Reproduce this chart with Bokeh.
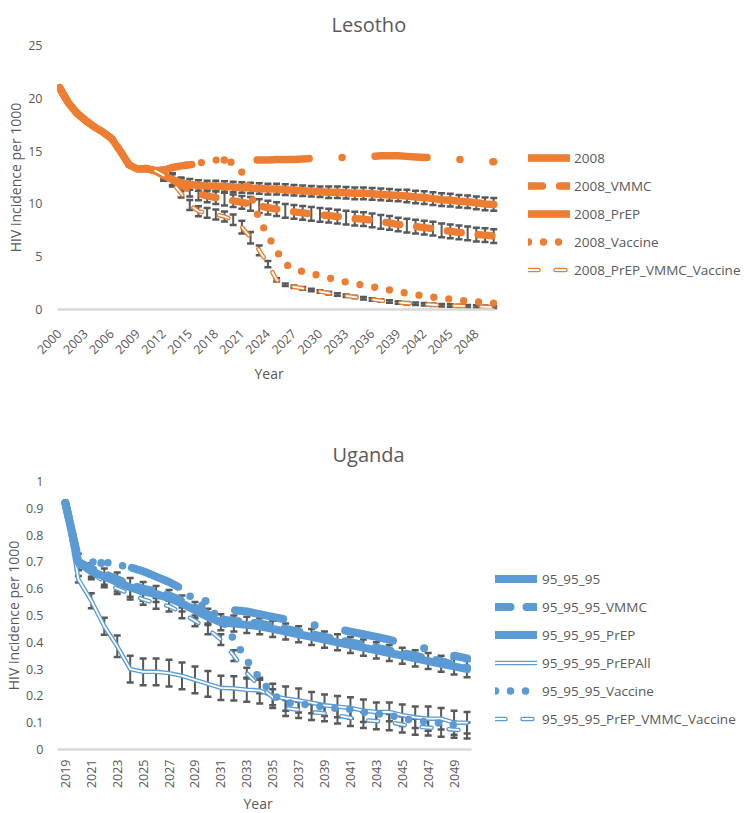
import numpy as np
from bokeh.plotting import figure
from bokeh.layouts import column
from bokeh.models import Range1d, FixedTicker, Legend, LegendItem, NumeralTickFormatter, Title
from bokeh.embed import file_html
from bokeh.resources import INLINE

ORANGE = "#ED7D31"
BLUE = "#5B9BD5"
TXT = "#595959"
ERR = "#595959"
AXIS = "#D9D9D9"
FONT = "Open Sans"

# ---------------- Lesotho data ----------------
les_years = list(range(2000, 2051))
les_proj_years = list(range(2011, 2051))
les_hist = [21.0, 19.6, 18.6, 17.9, 17.3, 16.8, 16.2, 15.0, 13.7, 13.3, 13.35, 13.15]  # 2000-2011
les_2008 = [13.2, 13.45, 13.6, 13.7, 13.8, 14.0, 14.1, 14.15, 14.2, 14.2, 14.2, 14.15, 14.15,
            14.2, 14.2, 14.2, 14.25, 14.3, 14.3, 14.35, 14.4, 14.4, 14.45, 14.5, 14.5, 14.55,
            14.55, 14.55, 14.5, 14.45, 14.4, 14.35, 14.3, 14.25, 14.2, 14.15, 14.1, 14.0, 14.0]
les_vmmc = [12.8, 12.3, 11.8, 11.3, 10.95, 10.75, 10.6, 10.45, 10.3, 10.15, 10.0, 9.8, 9.65,
            9.5, 9.35, 9.25, 9.15, 9.05, 8.95, 8.9, 8.8, 8.7, 8.6, 8.55, 8.45, 8.3, 8.2, 8.05,
            7.95, 7.85, 7.75, 7.65, 7.5, 7.4, 7.3, 7.2, 7.1, 7.05, 6.95]
les_prep = [12.7, 12.3, 12.0, 11.85, 11.75, 11.7, 11.7, 11.65, 11.6, 11.55, 11.5, 11.45, 11.4,
            11.4, 11.35, 11.3, 11.25, 11.2, 11.15, 11.1, 11.1, 11.05, 11.0, 11.0, 10.95, 10.9,
            10.85, 10.8, 10.75, 10.65, 10.6, 10.5, 10.4, 10.35, 10.25, 10.2, 10.1, 10.0, 9.95]
les_vacc = [13.2, 13.45, 13.6, 13.7, 13.85, 14.05, 14.15, 14.1, 13.9, 13.0, 11.0, 8.5, 7.0,
            5.55, 4.3, 3.85, 3.6, 3.4, 3.2, 3.0, 2.8, 2.6, 2.45, 2.3, 2.15, 2.0, 1.85, 1.7,
            1.55, 1.4, 1.3, 1.17, 1.07, 0.98, 0.88, 0.8, 0.73, 0.66, 0.6]
les_comb = [13.15, 12.7, 12.0, 11.0, 9.9, 9.3, 9.15, 9.0, 8.8, 8.5, 7.8, 6.8, 5.6, 4.3, 2.8,
            2.35, 2.15, 2.0, 1.85, 1.7, 1.55, 1.42, 1.3, 1.18, 1.06, 0.95, 0.85, 0.75, 0.66,
            0.6, 0.55, 0.5, 0.45, 0.4, 0.37, 0.34, 0.31, 0.28, 0.25, 0.22]  # 2011-2050
les_prep_err = [0.5, 0.5, 0.5, 0.5, 0.5, 0.5, 0.5, 0.5, 0.5, 0.5, 0.5, 0.5, 0.5, 0.5, 0.5,
                0.5, 0.5, 0.5, 0.5, 0.55, 0.55, 0.55, 0.55, 0.55, 0.55, 0.55, 0.55, 0.55, 0.6,
                0.6, 0.6, 0.6, 0.6, 0.6, 0.6, 0.6, 0.6, 0.6, 0.6]
les_vmmc_err = [0.6, 0.6, 0.6, 0.6, 0.6, 0.6, 0.6, 0.6, 0.6, 0.6, 0.65, 0.65, 0.65, 0.65, 0.65,
                0.65, 0.65, 0.65, 0.65, 0.65, 0.65, 0.65, 0.65, 0.65, 0.65, 0.65, 0.65, 0.65,
                0.65, 0.65, 0.65, 0.65, 0.65, 0.65, 0.65, 0.65, 0.65, 0.65, 0.65]
les_comb_err = [None, 0.3, 0.35, 0.4, 0.47, 0.47, 0.47, 0.47, 0.47, 0.5, 0.6, 0.55, 0.47, 0.3,
                0.15, 0.12, 0.12, 0.12, 0.12, 0.12, 0.12, 0.12, 0.12, 0.12, 0.12, 0.12, 0.12,
                0.12, 0.12, 0.12, 0.12, 0.12, 0.12, 0.12, 0.12, 0.12, 0.12, 0.12, 0.12, 0.12]
les_xticks = [2000, 2003, 2006, 2009, 2012, 2015, 2018, 2021, 2024, 2027, 2030, 2033, 2036,
              2039, 2042, 2045, 2048]
les_yticks = [0, 5, 10, 15, 20, 25]

# ---------------- Uganda data ----------------
uga_years = list(range(2019, 2051))
uga_base = [0.92, 0.71, 0.70, 0.695, 0.685, 0.68, 0.665, 0.645, 0.625, 0.60, 0.575, 0.55, 0.535,
            0.52, 0.515, 0.505, 0.495, 0.485, 0.475, 0.465, 0.46, 0.45, 0.44, 0.43, 0.42, 0.41,
            0.395, 0.385, 0.375, 0.36, 0.35, 0.34]
uga_vmmc = [0.92, 0.70, 0.675, 0.655, 0.635, 0.615, 0.60, 0.59, 0.575, 0.555, 0.53, 0.505, 0.485,
            0.48, 0.475, 0.47, 0.46, 0.45, 0.44, 0.43, 0.42, 0.41, 0.40, 0.39, 0.38, 0.37, 0.36,
            0.35, 0.34, 0.33, 0.315, 0.305]
uga_prep = [0.92, 0.70, 0.665, 0.645, 0.625, 0.605, 0.59, 0.58, 0.565, 0.545, 0.52, 0.495, 0.475,
            0.47, 0.465, 0.46, 0.45, 0.44, 0.43, 0.42, 0.41, 0.40, 0.39, 0.38, 0.37, 0.36, 0.35,
            0.34, 0.33, 0.32, 0.31, 0.30]
uga_prepall = [0.92, 0.635, 0.555, 0.46, 0.385, 0.30, 0.29, 0.29, 0.285, 0.275, 0.26, 0.245,
               0.23, 0.228, 0.223, 0.22, 0.20, 0.19, 0.183, 0.175, 0.165, 0.16, 0.155, 0.145,
               0.14, 0.14, 0.128, 0.12, 0.115, 0.115, 0.10, 0.10]
uga_vacc = [0.92, 0.70, 0.70, 0.70, 0.69, 0.68, 0.665, 0.645, 0.625, 0.60, 0.555, 0.525, 0.49,
            0.41, 0.334, 0.265, 0.205, 0.175, 0.17, 0.165, 0.158, 0.153, 0.15, 0.14, 0.133,
            0.13, 0.115, 0.108, 0.102, 0.098, 0.092, 0.088]
uga_comb = [0.92, 0.68, 0.66, 0.625, 0.60, 0.58, 0.56, 0.545, 0.535, 0.51, 0.48, 0.45, 0.41,
            0.35, 0.285, 0.235, 0.195, 0.155, 0.148, 0.14, 0.135, 0.127, 0.118, 0.11, 0.106,
            0.102, 0.093, 0.085, 0.082, 0.078, 0.074, 0.071]
uga_prep_err = [None, 0.03, 0.03, 0.03, 0.035, 0.035, 0.035, 0.03, 0.03, 0.03, 0.03, 0.03, 0.03,
                0.03, 0.03, 0.03, 0.03, 0.03, 0.03, 0.03, 0.03, 0.03, 0.03, 0.03, 0.03, 0.03,
                0.03, 0.03, 0.03, 0.03, 0.03, 0.03]
uga_prepall_err = [None, 0.012, 0.028, 0.032, 0.04, 0.05, 0.05, 0.05, 0.05, 0.05, 0.05, 0.048,
                   0.045, 0.045, 0.045, 0.048, 0.045, 0.045, 0.045, 0.04, 0.04, 0.04, 0.04,
                   0.042, 0.035, 0.035, 0.04, 0.04, 0.045, 0.04, 0.045, 0.04]
uga_comb_err = [None, 0.01, 0.015, 0.02, 0.02, 0.02, 0.02, 0.02, 0.02, 0.02, 0.02, 0.02, 0.02,
                0.02, 0.02, 0.025, 0.03, 0.03, 0.03, 0.03, 0.03, 0.03, 0.03, 0.03, 0.03, 0.03,
                0.03, 0.03, 0.03, 0.03, 0.03, 0.03]
uga_xticks = [2019, 2021, 2023, 2025, 2027, 2029, 2031, 2033, 2035, 2037, 2039, 2041, 2043,
              2045, 2047, 2049]
uga_yticks = [0, 0.1, 0.2, 0.3, 0.4, 0.5, 0.6, 0.7, 0.8, 0.9, 1.0]


def errbars(p, xs, ys, es, cap):
    bx, lo, hi = [], [], []
    for xi, yi, ei in zip(xs, ys, es):
        if ei is None:
            continue
        bx.append(xi)
        lo.append(yi - ei)
        hi.append(yi + ei)
    p.segment(bx, lo, bx, hi, line_color=ERR, line_width=2)
    p.scatter(bx, lo, marker="dash", size=cap, line_color=ERR, line_width=2.5)
    p.scatter(bx, hi, marker="dash", size=cap, line_color=ERR, line_width=2.5)


def style(p, xticks, yticks, xorient, xstand, ystand, xbounds, year_offset, year_standoff):
    p.outline_line_color = None
    p.xgrid.grid_line_color = None
    p.ygrid.grid_line_color = None
    p.title.text_font = FONT
    p.title.text_font_size = "20px"
    p.title.text_font_style = "normal"
    p.title.text_color = TXT
    p.title.align = "left"
    for ax in (p.xaxis[0], p.yaxis[0]):
        ax.major_tick_line_color = None
        ax.minor_tick_line_color = None
        ax.major_tick_out = 0
        ax.major_tick_in = 0
        ax.major_label_text_font = FONT
        ax.major_label_text_font_size = "12.5px"
        ax.major_label_text_color = TXT
        ax.axis_label_text_font = FONT
        ax.axis_label_text_font_size = "14px"
        ax.axis_label_text_font_style = "normal"
        ax.axis_label_text_color = TXT
    p.xaxis.ticker = FixedTicker(ticks=xticks)
    p.yaxis.ticker = FixedTicker(ticks=yticks)
    p.xaxis.bounds = xbounds
    p.xaxis.axis_line_color = AXIS
    p.xaxis.axis_line_width = 2.5
    p.yaxis.axis_line_color = None
    p.xaxis.major_label_orientation = xorient
    p.xaxis.major_label_standoff = xstand
    p.yaxis.major_label_standoff = ystand
    p.yaxis.axis_label_standoff = 0
    p.yaxis.axis_label = "HIV incidence per 1000"
    # x axis title, centred under the plotted years
    p.add_layout(Title(text="Year", align="left", offset=year_offset, standoff=year_standoff,
                       text_font=FONT, text_font_size="14px", text_font_style="normal",
                       text_color=TXT), "below")


def make_legend(items, loc, standoff):
    return Legend(items=items, location=loc, glyph_width=42, glyph_height=21, label_height=21,
                  spacing=7, label_standoff=standoff, padding=0, margin=0,
                  border_line_color=None, background_fill_alpha=0,
                  label_text_font=FONT, label_text_font_size="13.5px", label_text_color=TXT)


# ---------------- Lesotho figure ----------------
# plotted span of the category axis: 1999.77 .. 2050.11 (frame extends right for the legend)
p1 = figure(width=746, height=395, x_range=Range1d(1999.77, 2079.11), y_range=Range1d(0, 25),
            output_backend="svg", toolbar_location=None, title="Lesotho",
            min_border_left=51, min_border_right=0, min_border_top=44, min_border_bottom=86)
style(p1, les_xticks, les_yticks, np.pi / 4, 22, 15, (1999.77, 2050.11), 197, 1)
p1.title.offset = 274
p1.title.standoff = 16

proj = les_years[12:]
errbars(p1, proj, les_prep, les_prep_err, 7)
errbars(p1, proj, les_vmmc, les_vmmc_err, 7)
errbars(p1, les_proj_years, les_comb, les_comb_err, 7)

r08 = p1.line(les_years, les_hist + les_2008, line_color=ORANGE, line_width=7.5,
              line_dash="52 33 0 33", line_cap="round", line_join="round")
rvm = p1.line(les_years, les_hist + les_vmmc, line_color=ORANGE, line_width=7.3,
              line_dash="14 17", line_cap="round", line_join="round")
rpr = p1.line(les_years, les_hist + les_prep, line_color=ORANGE, line_width=7.5,
              line_cap="round", line_join="round")
rva = p1.line(les_years, les_hist + les_vacc, line_color=ORANGE, line_width=7.3,
              line_dash="0 15", line_cap="round", line_join="round")
rco1 = p1.line(les_proj_years, les_comb, line_color=ORANGE, line_width=4.5,
               line_dash="10 17", line_cap="round", line_join="round")
rco2 = p1.line(les_proj_years, les_comb, line_color="white", line_width=1.8,
               line_dash="10 17", line_cap="round", line_join="round")

leg1 = make_legend([
    LegendItem(label="2008", renderers=[r08]),
    LegendItem(label="2008_VMMC", renderers=[rvm]),
    LegendItem(label="2008_PrEP", renderers=[rpr]),
    LegendItem(label="2008_Vaccine", renderers=[rva]),
    LegendItem(label="2008_PrEP_VMMC_Vaccine", renderers=[rco1, rco2]),
], (471, 29), 4)
p1.add_layout(leg1)

# ---------------- Uganda figure ----------------
p2 = figure(width=746, height=417, x_range=Range1d(2018.39, 2071.57), y_range=Range1d(0, 1),
            output_backend="svg", toolbar_location=None, title="Uganda",
            min_border_left=53, min_border_right=0, min_border_top=86, min_border_bottom=61)
style(p2, uga_xticks, uga_yticks, np.pi / 2, 10, 14, (2018.39, 2050.31), 186, 0)
p2.yaxis.formatter = NumeralTickFormatter(format="0.[0]")
p2.title.offset = 275
p2.title.standoff = 27

errbars(p2, uga_years, uga_prep, uga_prep_err, 7)
errbars(p2, uga_years, uga_prepall, uga_prepall_err, 7)
errbars(p2, uga_years, uga_comb, uga_comb_err, 7)

u4a = p2.line(uga_years, uga_prepall, line_color=BLUE, line_width=4.5,
              line_cap="round", line_join="round")
u4b = p2.line(uga_years, uga_prepall, line_color="white", line_width=1.8,
              line_cap="round", line_join="round")
u6a = p2.line(uga_years, uga_comb, line_color=BLUE, line_width=4.5, line_dash="10 17",
              line_cap="round", line_join="round")
u6b = p2.line(uga_years, uga_comb, line_color="white", line_width=1.8, line_dash="10 17",
              line_cap="round", line_join="round")
u1 = p2.line(uga_years, uga_base, line_color=BLUE, line_width=8, line_dash="49 32 0 31",
             line_cap="round", line_join="round")
u2 = p2.line(uga_years, uga_vmmc, line_color=BLUE, line_width=8, line_dash="15 16",
             line_cap="round", line_join="round")
u3 = p2.line(uga_years, uga_prep, line_color=BLUE, line_width=8,
             line_cap="round", line_join="round")
u5 = p2.line(uga_years, uga_vacc, line_color=BLUE, line_width=7.5, line_dash="0 15",
             line_cap="round", line_join="round")

leg2 = make_legend([
    LegendItem(label="95_95_95", renderers=[u1]),
    LegendItem(label="95_95_95_VMMC", renderers=[u2]),
    LegendItem(label="95_95_95_PrEP", renderers=[u3]),
    LegendItem(label="95_95_95_PrEPAll", renderers=[u4a, u4b]),
    LegendItem(label="95_95_95_Vaccine", renderers=[u5]),
    LegendItem(label="95_95_95_PrEP_VMMC_Vaccine", renderers=[u6a, u6b]),
], (438, 20), 5)
p2.add_layout(leg2)

layout = column(p1, p2)
open("out.html", "w").write(file_html(layout, INLINE))
